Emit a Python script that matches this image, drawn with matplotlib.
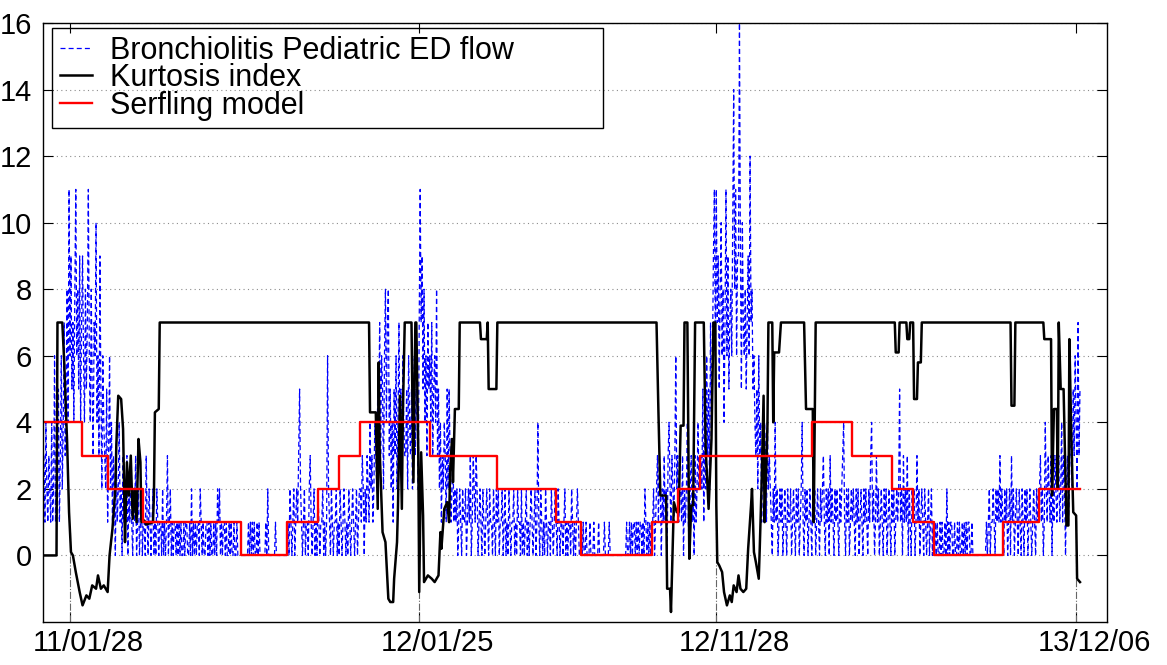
import numpy as np
import matplotlib
matplotlib.use('Agg')
import matplotlib.pyplot as plt
import matplotlib.transforms as mtransforms

plt.rcParams['font.family'] = ['Liberation Sans', 'DejaVu Sans']

# day 0 = 2011-01-01
start = np.datetime64('2011-01-01')
tick_dates = ['2011-01-28', '2012-01-25', '2012-11-28', '2013-12-06']
tick_labels = ['11/01/28', '12/01/25', '12/11/28', '13/12/06']

# daily bronchiolitis pediatric ED flow
flow = [
    3, 1, 4, 2, 1, 3, 2, 1, 4, 1, 2, 6, 1, 3,
    2, 5, 1, 3, 6, 2, 4, 7, 3, 5, 8, 4, 11, 6,
    9, 5, 7, 4, 8, 11, 6, 8, 5, 9, 4, 7, 9,
    6, 4, 8, 5, 7, 11, 6, 4, 8, 5, 3, 7, 6, 10, 4, 6, 3, 9, 5, 2, 6, 4,
    3, 2, 5, 1, 3, 6, 2, 4, 1, 3, 2, 0, 3, 1, 2, 4, 1, 2, 0, 3,
    1, 2, 1, 3, 0, 2, 1, 3, 1, 0, 2, 1, 3, 0, 1, 2, 0, 1,
    2, 0, 1, 1, 0, 3, 1, 0, 2, 1, 0, 1, 2, 0, 1, 0, 2, 1, 0, 1,
    1, 0, 2, 0, 1, 0, 1, 3, 0, 1,
    2, 0, 1, 0, 1, 1, 0, 1, 0, 1, 0, 1, 0, 0, 1, 0, 1, 1, 0, 0,
    1, 0, 2, 0, 1, 0, 1, 0, 1, 1, 0, 2, 1, 0, 1, 0, 0, 1, 1, 0,
    1, 0, 1, 0, 0, 1, 0, 1, 0, 2, 1, 2, 0, 1, 0, 1, 1, 0, 1, 0,
    0, 1, 0, 1, 0, 0, 1, 0, 0, 1, 0, 0, 0, 0,
    0, 0, 0, 0, 0, 0, 0, 1, 0, 1, 0, 1, 0, 1, 0, 0, 1, 0, 1, 0,
    0, 0, 0, 0, 0, 1, 0, 2, 0, 0, 0, 0, 0, 0, 0, 1, 0, 0, 0, 0,
    0, 0, 0, 0, 0, 0, 0, 0,
    1, 0, 2, 1, 0, 1, 2, 0, 1, 2, 1, 3, 5,
    2, 1, 0, 1, 2, 0, 1, 1, 0, 2, 3, 1, 0, 1, 2, 0, 1, 0, 2, 1,
    0, 1, 1, 2, 0, 1, 0, 1, 6, 2, 1, 0, 2, 1, 0, 1, 1, 2, 0, 1,
    0, 2, 1, 0, 1, 2, 1, 0, 1, 0, 2, 1, 0, 1, 2, 1, 0, 1, 2, 0,
    1, 2,
    2, 1, 3, 2, 0, 2, 1, 3, 2, 1, 4, 2, 3, 1, 2, 4, 3, 2, 5,
    4, 7, 3, 6, 5, 2, 6, 8, 4, 7, 8, 3, 5,
    2, 4, 1, 5, 3, 6, 2, 4, 7, 3, 5, 2, 6, 4, 3,
    3, 5, 2, 6, 4, 3, 5, 2, 4, 6, 3, 5, 4, 2, 7,
    11, 7, 9, 5, 8, 4, 6, 3, 7, 5, 6, 4, 7, 3, 5, 6, 4, 8,
    3, 5, 2, 4, 1, 3, 2, 4, 3, 1, 5, 2, 5, 3, 1, 2, 3, 1, 2,
    1, 2, 0, 1, 2, 1, 0, 2, 1, 1, 2, 0, 1, 2, 1, 3, 0, 1, 3, 2,
    1, 3, 2, 0, 1, 2, 1, 0, 2, 1, 0, 1, 2, 1, 0, 2, 1, 1, 0, 2,
    1, 0, 2, 1, 2, 0, 1, 1, 2, 0, 1, 2, 0, 1, 0, 2, 1, 0, 1, 1,
    2, 0, 1, 0, 2, 1, 1, 0, 2, 0, 1, 0, 1, 2, 0, 1, 0, 1, 2, 1,
    0, 1, 2, 0, 1, 4, 1, 0, 2, 1, 0, 1, 0, 2, 1, 0, 1, 1, 0, 2,
    1, 0, 1, 2,
    1, 0, 2, 1, 0, 1, 1, 0, 1, 2, 0, 1, 0, 1, 1, 0, 2, 1, 0, 1,
    0, 1, 2, 1, 0, 0, 1,
    0, 1, 0, 0, 1, 0, 0, 0, 1, 0, 0, 0, 1, 0, 0, 0, 0, 1, 0, 0,
    0, 0, 0, 1, 0, 0, 0, 0, 1, 0, 0, 0, 0, 0, 0, 0, 0, 0, 0, 0,
    0, 0, 0, 0, 0, 0, 1, 0, 0, 1, 0, 1, 0, 1, 1, 0, 1, 0, 1, 0,
    1, 1, 0, 1, 0, 2, 1, 0, 1, 0, 1, 0, 1,
    1, 2, 0, 1, 2, 3, 1, 3, 2, 0, 2, 1, 3, 1, 2, 0, 3, 4, 2, 1,
    3, 2, 1, 3, 6, 2, 3, 1, 2,
    2, 1, 3, 0, 2, 1, 2, 4, 1, 0, 2, 3, 1, 2, 0, 3, 1, 2, 4, 2, 3,
    3, 2, 5, 1, 4, 2, 6, 3, 5, 2, 7, 4, 6,
    9, 11, 6, 11, 7, 9, 5, 8, 10, 6, 8, 4, 7, 11, 6, 9, 5, 7, 8, 6,
    10, 14, 8, 11, 6, 9, 9, 16, 9, 5, 10, 7, 6, 8, 5, 7, 9, 6, 12, 7,
    8, 5, 6, 4,
    3, 5, 2, 6, 3, 4, 1, 3, 2, 4, 3, 1, 4, 2, 3,
    2, 1, 0, 2, 1, 4, 1, 2, 0, 1, 2, 1, 2, 0, 1, 2, 1, 0, 2, 1,
    1, 2, 0, 1, 2, 1, 0, 2, 1, 2, 0, 1, 2, 4, 1, 0, 2, 1, 2, 0,
    1, 2, 1, 0, 2, 1, 2, 0, 1, 2, 1, 0, 2, 1, 2, 3, 1, 0, 2, 1,
    2, 0, 3, 1, 2, 1, 0, 2, 1, 2, 1, 0, 2, 1, 2, 3, 4, 1, 0, 2,
    1, 2, 0, 1, 2,
    1, 2, 1, 0, 2, 1, 2, 0, 1, 2, 1, 0, 2, 1, 2, 1, 0, 2, 1, 3,
    4, 1, 2, 0, 1, 3, 1, 2, 0, 1, 2, 1, 0, 2, 1, 2, 0, 1, 2, 1,
    0, 2, 1, 2, 0, 1, 2, 1, 2, 5, 1, 2, 0, 3, 1, 2, 1, 3, 0, 2,
    1, 0, 2, 1, 2, 0, 1, 3, 1, 2, 0, 1, 2, 1, 0, 2, 1, 0, 1, 2,
    0, 1, 2, 0, 1, 0,
    1, 0, 1, 0, 0, 1, 0, 1, 0, 0, 1, 0, 2, 0, 1, 0, 1, 1, 0, 0,
    1, 0, 0, 1, 0, 1, 0, 0, 1, 0, 1, 0, 1, 0, 1, 1, 0, 0, 1, 0,
    0, 0, 0, 0, 0, 0, 0, 0, 0, 0, 0, 0, 0, 1, 0, 1, 2, 0, 1, 1,
    2, 1, 0, 2, 1, 2, 1, 3, 1, 2,
    1, 0, 2, 1, 2, 0, 1, 2, 0, 3, 1, 2, 0, 1, 2, 1, 0, 2, 1, 0,
    2, 1, 0, 2, 1, 2, 0, 1, 2, 1, 0, 1, 2, 1, 0, 2, 1, 2,
    2, 3, 1, 2, 0, 1, 4, 2, 1, 3, 2, 1, 3, 0, 2, 1, 3, 2, 1, 2,
    3, 1, 2, 4, 1, 3, 2, 0, 2, 3, 1, 2, 4, 3, 2, 5, 3, 6, 4, 2,
    7, 3, 5,
]

# kurtosis index (day, value)
kurt_day = [0, 13, 14, 19, 21, 24, 26, 28, 30, 33, 37, 40, 44, 47, 50, 54, 56, 59,
            62, 66, 68, 71, 74, 75, 77, 80, 82, 83, 84, 86, 88, 90, 92, 94, 96, 98,
            100, 101, 104, 106, 113, 114, 115, 119, 120,
            337, 338, 344, 346, 347, 348, 351, 354, 357, 359, 362, 363, 366, 367,
            369, 371, 372, 374, 381, 383, 385, 386, 388, 389, 391, 393, 394, 398,
            402, 405, 409, 411, 412, 415, 418, 420, 421, 423, 424, 426, 430, 431,
            452, 453, 459, 460, 461, 469, 470,
            635, 637, 639, 645, 646, 649, 650, 652, 653, 656, 658, 660, 663, 664,
            667, 669, 671, 673, 675, 684, 686, 689, 692, 694, 696, 697, 698, 700,
            703, 705, 708, 711, 713, 715, 718, 720, 722, 725, 728, 730, 733, 734,
            736, 738, 741, 742, 744, 746, 747, 749, 750, 751, 755, 756, 757, 762,
            764, 788, 790, 797, 798, 800, 882, 883, 886, 887, 894, 895, 897, 898,
            901, 902, 905, 906, 909, 910, 1002, 1003, 1006, 1007, 1036, 1037, 1044,
            1045, 1047, 1050, 1051, 1052, 1054, 1057, 1060, 1062, 1063, 1065, 1067,
            1070, 1071, 1074]
kurt_val = [0, 0, 7, 7, 5.8, 3.4, 1.3, 0.1, 0, -0.5, -1.1, -1.5, -1.2, -1.3, -0.9,
            -1.0, -0.6, -1.0, -0.9, -1.1, 0, 0.8, 2, 3.3, 4.8, 4.7, 3.8, 2.2, 0.4,
            2.8, 1.8, 3.0, 1.1, 2.0, 1.0, 3.5, 2.8, 1.0, 1.05, 0.93, 1.0, 1.8, 4.3,
            4.4, 7,
            7, 4.3, 4.3, 1.4, 5.8, 3.2, 0.7, 0.4, -1.3, -1.4, -1.4, -0.7, 0.4, 1.5,
            4.8, 1.4, 4.2, 7, 7, 2.2, 7, 7, 3.2, -1.1, 3.1, 1.2, -0.8, -0.6,
            -0.7, -0.8, -0.6, 0.7, 0.2, 1.4, 1.6, 1.0, 2.5, 3.5, 2.2, 4.4, 4.4, 7,
            7, 6.5, 6.5, 7, 5.0, 5.0, 7,
            7, 4.3, 1.8, 1.8, -1.0, -1.0, -1.7, 0.5, 1.6, 1.3, 1.3, 3.9, 3.9, 7,
            7, -0.1, 1.5, 1.5, 7, 7, 3.2, 1.4, 3.5, 7, 7, 1.5, -0.2, -0.3,
            -0.5, -1.1, -1.5, -1.2, -1.4, -0.9, -1.1, -0.6, -1.0, -1.1, -1.0, 0.2, 1.5, 2.0,
            0.1, -0.2, -0.7, 0.2, 2.2, 4.8, 1.0, 2.8, 3.9, 7, 7, 4.0, 6.1, 6.1,
            7, 7, 4.4, 4.4, 1.0, 7, 7, 6.1, 6.1, 7, 7, 6.5, 6.5, 7,
            7, 4.7, 4.7, 5.8, 5.8, 7, 7, 4.5, 4.5, 7, 7, 6.5, 6.5,
            1.8, 4.4, 4.4, 2.0, 7, 5.0, 5.0, 0.9, 0.9, 6.5, 3.6, 1.3,
            1.2, -0.7, -0.8]

# Serfling model: level from each start day until the next one
serf_start = [0, 39, 66, 103, 204, 252, 284, 306, 328, 400, 470, 531, 557, 630,
              657, 680, 796, 838, 879, 901, 923, 994, 1031]
serf_level = [4, 3, 2, 1, 0, 1, 2, 3, 4, 3, 2, 1, 0, 1, 2, 3, 4, 3, 2, 1, 0, 1, 2]
serf_end = 1074

fig = plt.figure(figsize=(11.67, 6.65), dpi=100)
ax = fig.add_axes([43/1167, 43/665, 1064/1167, 599/665])

days = np.arange(len(flow))
ax.plot(days, flow, color='b', lw=0.9, dashes=(4, 2.5),
        label='Bronchiolitis Pediatric ED flow')
ax.plot(kurt_day, kurt_val, color='k', lw=1.8, label='Kurtosis index')
ax.plot(serf_start + [serf_end], serf_level + [serf_level[-1]], color='r',
        lw=1.7, drawstyle='steps-post', label='Serfling model')

tick_pos = (np.array(tick_dates, dtype='datetime64[D]') - start).astype(int)
for t in tick_pos:
    ax.plot([t, t], [-2, np.interp(t, kurt_day, kurt_val)], color='0.4',
            lw=0.8, ls='-.', zorder=1)

ax.set_xlim(-1, 1102)
ax.set_ylim(-2, 16)
ax.set_xticks(tick_pos)
ax.set_xticklabels(tick_labels)
ax.set_yticks(np.arange(0, 17, 2))
ax.yaxis.grid(True, color='0.55', ls=(0, (1, 3)), lw=0.8)
ax.set_axisbelow(True)
ax.tick_params(direction='in', length=7, width=0.8, top=True, right=True,
               labelsize=21)
ax.tick_params(axis='x', pad=5)
ax.tick_params(axis='y', pad=8)
for s in ax.spines.values():
    s.set_linewidth(1.0)

# the date labels sit a little to the right of their ticks in the original
shift = mtransforms.ScaledTranslation(0.18, 0, fig.dpi_scale_trans)
for lab in ax.get_xticklabels():
    lab.set_transform(lab.get_transform() + shift)

leg = ax.legend(loc='upper left', bbox_to_anchor=(0.0085, 0.5, 0.518, 0.4917),
                mode='expand', borderaxespad=0, fontsize=22, handlelength=1.05,
                handletextpad=0.6, labelspacing=-0.08, borderpad=0.25,
                fancybox=False, edgecolor='k')
leg.get_frame().set_facecolor('none')
leg.get_frame().set_alpha(None)
leg.get_frame().set_linewidth(1.0)

fig.savefig('out.png', dpi=100)
